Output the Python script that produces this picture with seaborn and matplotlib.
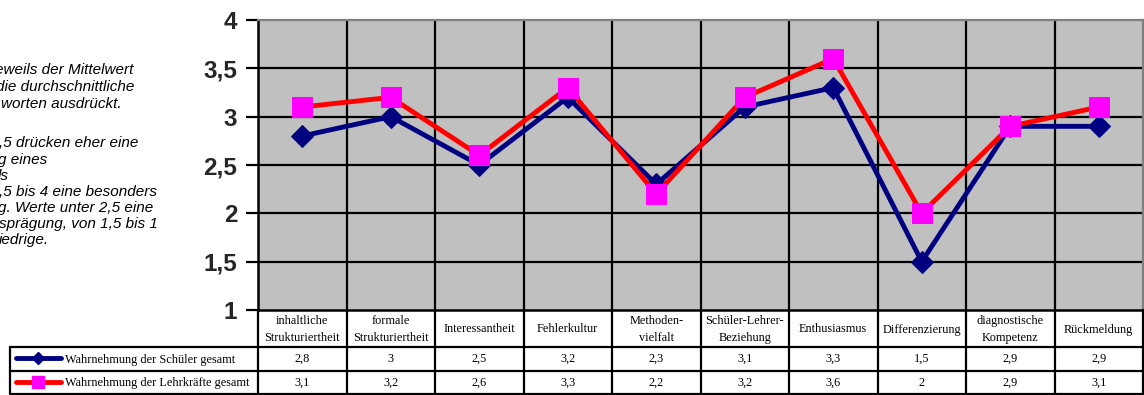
import matplotlib
matplotlib.use("Agg")
import matplotlib.pyplot as plt
import seaborn as sns
import pandas as pd
from matplotlib.lines import Line2D

categories = ["inhaltliche\nStrukturiertheit", "formale\nStrukturiertheit", "Interessantheit",
              "Fehlerkultur", "Methoden-\nvielfalt", "Schüler-Lehrer-\nBeziehung",
              "Enthusiasmus", "Differenzierung", "diagnostische\nKompetenz", "Rückmeldung"]
schueler = [2.8, 3.0, 2.5, 3.2, 2.3, 3.1, 3.3, 1.5, 2.9, 2.9]
lehrer = [3.1, 3.2, 2.6, 3.3, 2.2, 3.2, 3.6, 2.0, 2.9, 3.1]
series_names = ["Wahrnehmung der Schüler gesamt", "Wahrnehmung der Lehrkräfte gesamt"]
ytick_values = [1, 1.5, 2, 2.5, 3, 3.5, 4]
ytick_labels = ["1", "1,5", "2", "2,5", "3", "3,5", "4"]
note_lines = ["eweils der Mittelwert", "die durchschnittliche", "worten ausdrückt.",
              ",5 drücken eher eine", "g eines", "ls", ",5 bis 4 eine besonders",
              "g. Werte unter 2,5 eine", "sprägung, von 1,5 bis 1", "iedrige."]

sns.set_theme(style="white")
plt.rcParams['font.family'] = ['Liberation Sans', 'DejaVu Sans']

W, H = 1144, 395
fig = plt.figure(figsize=(W / 100, H / 100), dpi=100)

def fx(x):
    return x / W

def fy(y):
    return 1 - y / H

ax = fig.add_axes([fx(258), fy(310), (1143 - 258) / W, (310 - 20) / H])
ax.set_facecolor("#C0C0C0")

n = len(categories)
df = pd.DataFrame({
    "pos": [i + 0.5 for i in range(n)] * 2,
    "value": schueler + lehrer,
    "series": [series_names[0]] * n + [series_names[1]] * n,
})

# grid
for yv in ytick_values[1:-1]:
    ax.axhline(yv, color="black", lw=1.6, zorder=1)
for xv in range(1, n):
    ax.axvline(xv, color="black", lw=1.6, zorder=1)

sns.lineplot(data=df[df.series == series_names[0]], x="pos", y="value", ax=ax,
             color="#000080", lw=3.5, marker="D", markersize=11,
             markeredgecolor="#000080", markerfacecolor="#000080", zorder=3, legend=False)
sns.lineplot(data=df[df.series == series_names[1]], x="pos", y="value", ax=ax,
             color="#FF0000", lw=3.5, marker="s", markersize=14,
             markeredgecolor="#FF00FF", markerfacecolor="#FF00FF", zorder=4, legend=False)

ax.set_xlim(0, n)
ax.set_ylim(1, 4)
ax.set_xticks([])
ax.set_xlabel("")
ax.set_ylabel("")
ax.set_yticks(ytick_values)
ax.set_yticklabels(ytick_labels, fontsize=17.5, fontweight="bold", family=["Liberation Sans"])
ax.tick_params(axis="y", length=9, width=1.6, color="black", pad=6, left=True)
for s in ["left", "bottom"]:
    ax.spines[s].set_color("black")
    ax.spines[s].set_linewidth(1.8)
ax.spines["top"].set_color("#808080")
ax.spines["top"].set_linewidth(1.6)
ax.spines["right"].set_color("#808080")
ax.spines["right"].set_linewidth(1.6)

# table
x0, x1 = 258, 1143
cw = (x1 - x0) / n
y_head_top, y_head_bot, y_r1, y_r2 = 310, 347, 371, 394
lw = 1.6
def hline(xa, xb, y):
    fig.add_artist(Line2D([fx(xa), fx(xb)], [fy(y), fy(y)], color="black", lw=lw))
def vline(x, ya, yb):
    fig.add_artist(Line2D([fx(x), fx(x)], [fy(ya), fy(yb)], color="black", lw=lw))

hline(10, x1, y_head_bot)
hline(10, x1, y_r1)
hline(10, x1, y_r2)
for i in range(n + 1):
    vline(x0 + i * cw, y_head_top, y_r2)
vline(10, y_head_bot, y_r2)

tfont = dict(family=["Liberation Serif"], fontsize=8.8, color="black")
for i, cat in enumerate(categories):
    cx = x0 + (i + 0.5) * cw
    fig.text(fx(cx), fy((y_head_top + y_head_bot) / 2 + 1), cat, ha="center", va="center",
             linespacing=1.55, **tfont)
    fig.text(fx(cx), fy((y_head_bot + y_r1) / 2), f"{schueler[i]:g}".replace(".", ","),
             ha="center", va="center", **tfont)
    fig.text(fx(cx), fy((y_r1 + y_r2) / 2), f"{lehrer[i]:g}".replace(".", ","),
             ha="center", va="center", **tfont)

# legend keys in table
ly1 = (y_head_bot + y_r1) / 2 - 1
ly2 = (y_r1 + y_r2) / 2 - 1
fig.add_artist(Line2D([fx(16), fx(61)], [fy(ly1), fy(ly1)], color="#000080", lw=3.5))
fig.add_artist(Line2D([fx(38)], [fy(ly1)], color="#000080", marker="D", markersize=6,
                      markerfacecolor="#000080", markeredgecolor="#000080"))
fig.add_artist(Line2D([fx(16), fx(61)], [fy(ly2), fy(ly2)], color="#FF0000", lw=3.5))
fig.add_artist(Line2D([fx(38)], [fy(ly2)], color="#FF00FF", marker="s", markersize=8,
                      markerfacecolor="#FF00FF", markeredgecolor="#FF00FF"))
fig.text(fx(65), fy(ly1 + 1.5), series_names[0], ha="left", va="center", **tfont)
fig.text(fx(65), fy(ly2 + 1.5), series_names[1], ha="left", va="center", **tfont)

# note text on left (clipped by canvas as in the reference)
note_x = [-5, -4, 1, -1, -2, -2, -1, -2, -1, -1]
note_y = [70, 87, 104, 143, 160, 176, 192, 208, 224, 240]
for line, xx, yy in zip(note_lines, note_x, note_y):
    fig.text(fx(xx), fy(yy), line, ha="left", va="center",
             fontsize=11, style="italic", family=["Liberation Sans"], color="black")

fig.savefig("out.png", dpi=100)
